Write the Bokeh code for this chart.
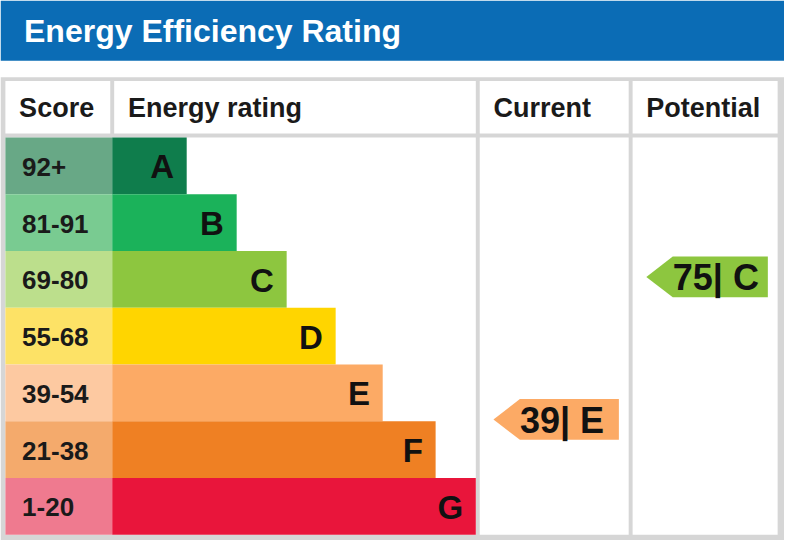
# Energy efficiency rating chart (EPC style) drawn with bokeh
from bokeh.plotting import figure
from bokeh.models import Range1d
from bokeh.core.properties import value
from bokeh.embed import file_html
from bokeh.resources import INLINE

########################################################################################################################
# Data

title = "Energy Efficiency Rating"
headers = ["Score", "Energy rating", "Current", "Potential"]

bands = ["A", "B", "C", "D", "E", "F", "G"]
score_labels = ["92+", "81-91", "69-80", "55-68", "39-54", "21-38", "1-20"]
band_low = [92, 81, 69, 55, 39, 21, 1]
band_high = [100, 91, 80, 68, 54, 38, 20]
bar_length = [76, 127, 178, 228, 276, 330, 371]

current_score = 39
current_band = "E"
potential_score = 75
potential_band = "C"

########################################################################################################################
# Styles / layout (in reference pixel units)

band_colors = ["#0f7d4c", "#1bb25a", "#8dc63f", "#ffd500", "#fcaa65", "#ef8023", "#e9153b"]
score_colors = ["#68a886", "#79cb91", "#bcdf8c", "#fde266", "#fdc9a1", "#f4aa6c", "#ef7a8f"]
blue = "#0b6cb5"
grey = "#d6d6d6"
font = "Liberation Sans"

col_left = [5, 116, 489, 645]
col_right = [112, 485, 641, 793]
body_top, body_bottom = 141, 550
row_h = (body_bottom - body_top) / len(bands)
bar_start = 114

p = figure(width=784, height=540, x_range=Range1d(0, 800), y_range=Range1d(556, 0),
           output_backend="svg", toolbar_location=None, x_axis_type=None, y_axis_type=None,
           min_border=0)
p.grid.visible = False
p.outline_line_color = None
p.background_fill_color = "white"
p.border_fill_color = "white"

# title bar
p.quad(left=[0], right=[800], top=[0], bottom=[62], fill_color=blue, line_color=None)
p.text(x=[24], y=[31], text=[title], text_color="white", text_font=value(font),
       text_font_style="bold", text_font_size="32px", text_baseline="middle")

# table frame
p.quad(left=[0], right=[800], top=[79], bottom=[556], fill_color=grey, line_color=None)
p.quad(left=col_left, right=col_right, top=[83] * 4, bottom=[137] * 4, fill_color="white", line_color=None)
p.quad(left=[5, 489, 645], right=[485, 641, 793], top=[body_top] * 3, bottom=[body_bottom] * 3,
       fill_color="white", line_color=None)
p.text(x=[c + 14 for c in col_left], y=[111] * 4, text=headers, text_color="#1a1a1a",
       text_font=value(font), text_font_style="bold", text_font_size="27px", text_baseline="middle")

# bands
tops = [body_top + i * row_h for i in range(len(bands))]
bottoms = [t + row_h for t in tops]
mids = [t + row_h / 2 for t in tops]
ends = [bar_start + b for b in bar_length]

p.quad(left=[5] * len(bands), right=[bar_start] * len(bands), top=tops, bottom=bottoms,
       fill_color=score_colors, line_color=None)
p.quad(left=[bar_start] * len(bands), right=ends, top=tops, bottom=bottoms,
       fill_color=band_colors, line_color=None)
p.text(x=[22] * len(bands), y=[m + 1 for m in mids], text=score_labels, text_color="#1a1a1a",
       text_font=value(font), text_font_style="bold", text_font_size="26px", text_baseline="middle")
p.text(x=[e - 13 for e in ends], y=[m + 1 for m in mids], text=bands, text_color="#111111",
       text_font=value(font), text_font_style="bold", text_font_size="33px", text_baseline="middle",
       text_align="right")


# arrows for current and potential, placed by score within the band
def arrow(score, band, col):
    i = bands.index(band)
    yc = tops[i] + (band_high[i] - score + 0.5) / (band_high[i] - band_low[i] + 1) * row_h
    tip = col_left[col] + 14
    body = col_left[col] + 41
    right = col_right[col] - 10
    p.patch([tip, body, right, right, body], [yc, yc - 21, yc - 21, yc + 21, yc + 21],
            fill_color=band_colors[i], line_color=None)
    p.text(x=[body], y=[yc + 1], text=[f"{score}| {band}"], text_color="#111111",
           text_font=value(font), text_font_style="bold", text_font_size="36px",
           text_baseline="middle")


arrow(current_score, current_band, 2)
arrow(potential_score, potential_band, 3)

open("out.html", "w").write(file_html(p, INLINE))
